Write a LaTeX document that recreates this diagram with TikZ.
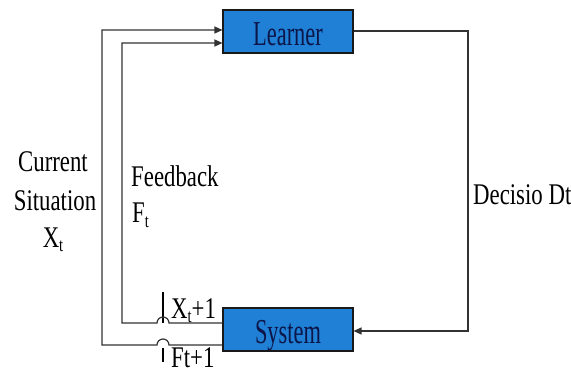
\documentclass[tikz,border=0pt]{standalone}
\usepackage{fontspec}
\usepackage{graphicx}
\setmainfont{Liberation Serif}
\usetikzlibrary{arrows.meta}
\definecolor{boxblue}{RGB}{31,128,214}
\definecolor{boxtext}{RGB}{12,22,72}
\definecolor{wirecol}{RGB}{50,50,50}
\newcommand{\nar}[1]{\scalebox{0.76}[1]{#1}}
\newcommand{\bnar}[1]{\scalebox{0.64}[1]{#1}}
\newcommand{\subt}{\raisebox{-4pt}{\fontsize{19}{19}\selectfont t}}
\tikzset{
  lbl/.style={font=\fontsize{30}{34}\selectfont, inner sep=0pt, text=black},
  blk/.style={draw=black!90, line width=1.1pt, fill=boxblue, minimum width=130pt,
    minimum height=43pt, inner sep=0pt, text height=28pt, text depth=0pt,
    text=boxtext, font=\fontsize{35}{40}\selectfont},
  wire/.style={draw=wirecol, line width=1.2pt},
  arr/.style={wire, -{Triangle[length=8pt,width=7pt]}},
  crossbar/.style={draw=black, line width=2.8pt}
}
\begin{document}
\begin{tikzpicture}[x=1pt,y=1pt]
\useasboundingbox (0,0) rectangle (571,373);
\node[blk] (learner) at (288,341.5) {\bnar{Learner}};
\node[blk] (system) at (288,43.5) {\bnar{System}};
\coordinate (o1) at (102,343);
\coordinate (o2) at (102,28);
\coordinate (i1) at (122,330);
\coordinate (i2) at (122,50);
\coordinate (r1) at (468,342);
\coordinate (r2) at (468,42);
% crossing bar
\coordinate (b1) at (163,81);
\coordinate (b2) at (163,50);
\coordinate (b3) at (163,25);
\coordinate (b4) at (163,11);
\draw[crossbar] (b1) -- (b2);
\draw[crossbar] (b3) -- (b4);
% outer loop: system -> learner
\draw[arr] (system.west |- o2) -- (169,28) arc[start angle=0,end angle=180,radius=6] -- (o2) -- (o1) -- (learner.west |- o1);
% inner loop
\draw[arr] (system.west |- i2) -- (169,50) arc[start angle=0,end angle=180,radius=6] -- (i2) -- (i1) -- (learner.west |- i1);
% decision loop
\draw[arr] (learner.east |- r1) -- (r1) -- (r2) -- (system.east |- r2);
% labels
\node[lbl, anchor=base] (cur) at (53,201) {\nar{Current}};
\node[lbl, anchor=base] (sit) at (55,163) {\nar{Situation}};
\node[lbl, anchor=base] (xt) at (53,126) {\nar{X\subt}};
\node[lbl, anchor=base west] (fb) at (131,186) {\nar{Feedback}};
\node[lbl, anchor=base west] (ft) at (132,150) {\nar{F\subt}};
\node[lbl, anchor=base west] (dec) at (473,168) {\nar{Decisio Dt}};
\node[lbl, anchor=base west] (xt1) at (171,55) {\nar{X\subt+1}};
\node[lbl, anchor=base west] (ft1) at (171,6) {\nar{Ft+1}};
\end{tikzpicture}
\end{document}
